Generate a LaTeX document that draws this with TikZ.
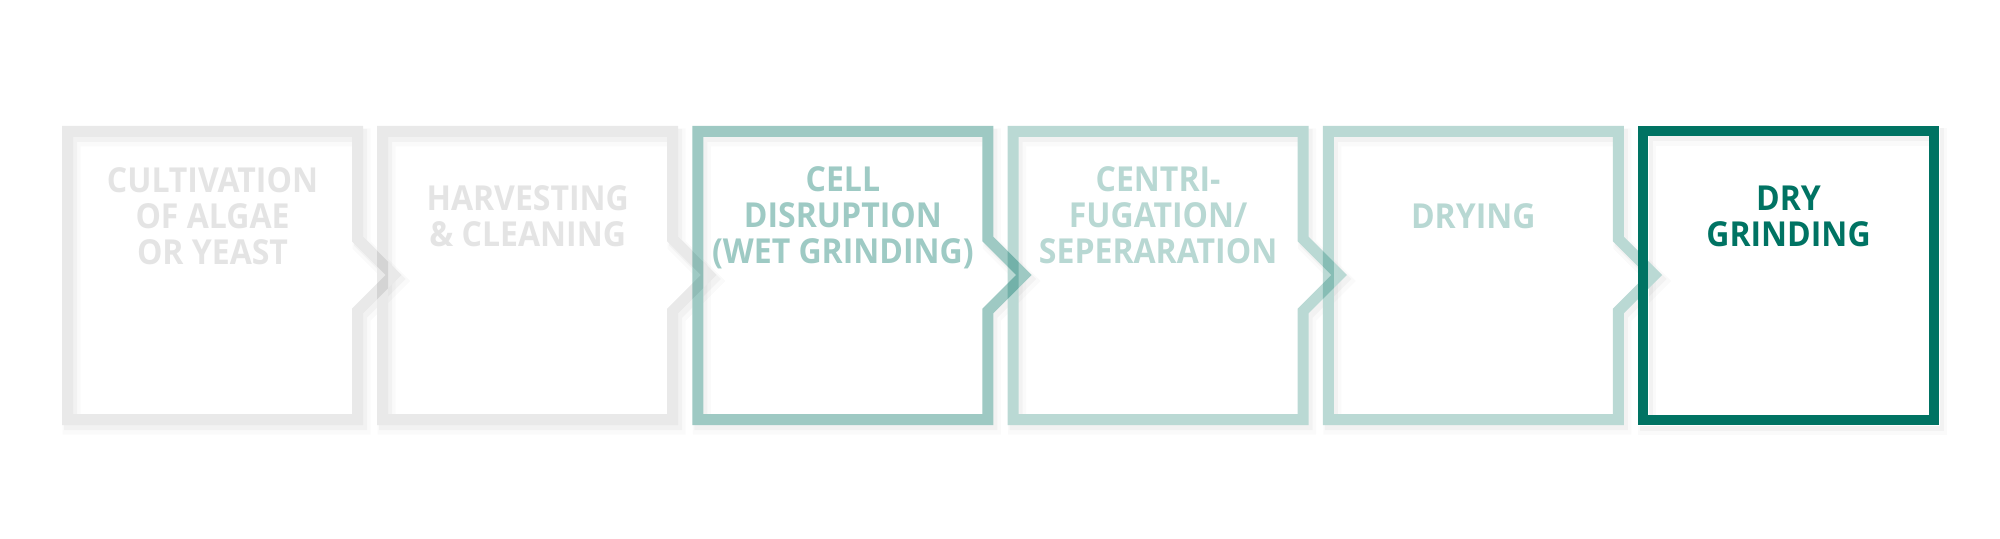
\documentclass[tikz,border=0pt]{standalone}
\usepackage{fontspec}
\setmainfont{Open Sans}[FakeStretch=0.93]
\definecolor{teal}{RGB}{0,115,99}
\definecolor{gtext}{RGB}{228,228,228}
\begin{document}
\begin{tikzpicture}[x=0.5pt,y=-0.5pt, line join=miter,
  stagepath/.style 2 args={insert path={(#1,131.5) -- (#2,131.5) -- (#2,239) -- ++(36,36) -- (#2,311) -- (#2,419.5) -- (#1,419.5) -- cycle}},
  shadowA/.style={draw=black, draw opacity=0.02, line width=9pt, shift={(4,6)}},
  shadowB/.style={draw=black, draw opacity=0.03, line width=6.5pt, shift={(3,4)}},
  underlay/.style={draw=white, line width=5.5pt},
  grayline/.style={draw=black, draw opacity=0.085, line width=5.5pt},
  midline/.style={draw=teal, draw opacity=0.38, line width=5.5pt},
  lightline/.style={draw=teal, draw opacity=0.27, line width=5.5pt},
  darkline/.style={draw=teal, line width=5pt},
  stagetext/.style={font=\bfseries\fontsize{17.2}{18}\selectfont, align=center, anchor=north, inner sep=0pt},
]
\useasboundingbox[fill=white] (0,0) rectangle (2000,539);

% soft shadows
\foreach \l/\r in {67.5/357.5, 382.7/672.7, 697.9/987.9, 1013.1/1303.1, 1328.3/1618.3}{
  \draw[shadowA, stagepath={\l}{\r}];
  \draw[shadowB, stagepath={\l}{\r}];
}
\draw[shadowA] (1643,131) rectangle (1934,420);
\draw[shadowB] (1643,131) rectangle (1934,420);
% white underlay so the shadows do not darken the strokes
\foreach \l/\r in {67.5/357.5, 382.7/672.7, 697.9/987.9, 1013.1/1303.1, 1328.3/1618.3}{
  \draw[underlay, stagepath={\l}{\r}];
}
\draw[underlay] (1643,131) rectangle (1934,420);

% stage outlines
\draw[grayline, stagepath={67.5}{357.5}];
\draw[grayline, stagepath={382.7}{672.7}];
\draw[midline, stagepath={697.9}{987.9}];
\draw[lightline, stagepath={1013.1}{1303.1}];
\draw[lightline, stagepath={1328.3}{1618.3}];
\draw[darkline] (1643,131) rectangle (1934,420);

\node[stagetext, text=gtext] (t1) at (212.5,162) {\rule{0pt}{15pt}CULTIVATION\\OF ALGAE\\OR YEAST};
\node[stagetext, text=gtext] (t2) at (527.7,180) {\rule{0pt}{15pt}HARVESTING\\\& CLEANING};
\node[stagetext, text=teal!38!white] (t3) at (842.9,161) {\rule{0pt}{15pt}CELL\\DISRUPTION\\(WET GRINDING)};
\node[stagetext, text=teal!28!white] (t4) at (1158.1,161) {\rule{0pt}{15pt}CENTRI-\\FUGATION/\\SEPERARATION};
\node[stagetext, text=teal!28!white] (t5) at (1473.3,198) {\rule{0pt}{15pt}DRYING};
\node[stagetext, text=teal] (t6) at (1788.5,180) {\rule{0pt}{15pt}DRY\\GRINDING};
\end{tikzpicture}
\end{document}
